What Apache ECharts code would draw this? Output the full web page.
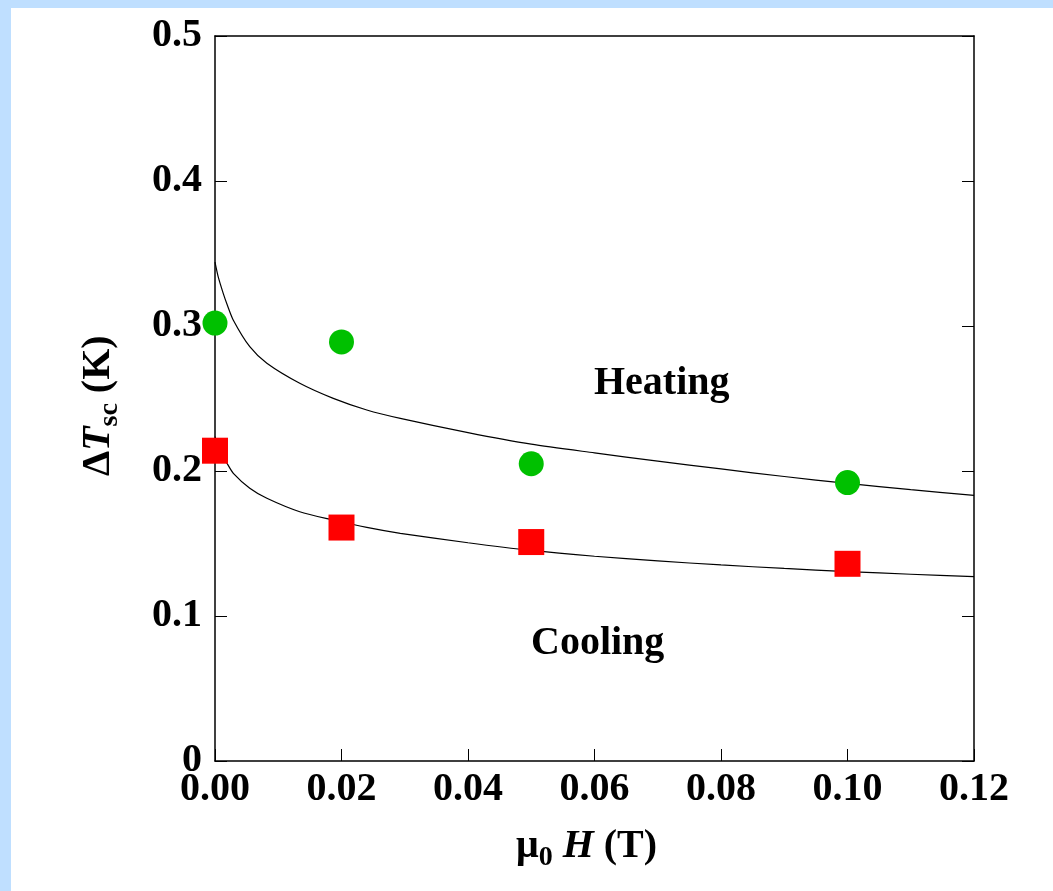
<!DOCTYPE html>
<html>
<head>
<meta charset="utf-8">
<script src="https://cdn.jsdelivr.net/npm/echarts@6/dist/echarts.min.js"></script>
<style>
  html, body { margin: 0; padding: 0; background: #bfdfff; }
  #chart { position: absolute; left: 11px; top: 8px; width: 1042px; height: 883px; background: #fff; }
</style>
</head>
<body>
<div id="chart"></div>
<script>
// measured points
const fieldT = [0, 0.02, 0.05, 0.10];
const heating = [0.302, 0.289, 0.205, 0.192];
const cooling = [0.214, 0.161, 0.151, 0.136];

// fit curves
const fitX = [0, 0.0005, 0.0013, 0.0019, 0.0029, 0.0055, 0.0082, 0.0134, 0.0187, 0.024, 0.0293, 0.04, 0.05, 0.06, 0.07, 0.08, 0.09, 0.1, 0.11, 0.12];
const fitHeat = [0.344, 0.334, 0.3225, 0.315, 0.304, 0.2857, 0.2743, 0.2605, 0.2501, 0.2421, 0.2363, 0.2265, 0.2185, 0.2125, 0.2068, 0.2014, 0.1962, 0.1914, 0.1871, 0.1832];
const fitCool = [0.2237, 0.2175, 0.2095, 0.2053, 0.1984, 0.1881, 0.1812, 0.1719, 0.1662, 0.1611, 0.157, 0.1505, 0.1452, 0.1412, 0.138, 0.1352, 0.1328, 0.1306, 0.1288, 0.1271];

const serif = "'Liberation Serif', 'Times New Roman', serif";

const chart = echarts.init(document.getElementById('chart'));

const pairs = (xs, ys) => xs.map((x, i) => [x, ys[i]]);

const frameLine = { onZero: false, lineStyle: { color: '#000', width: 1.5 } };
const innerTick = { inside: true, length: 12, lineStyle: { color: '#000', width: 1 } };

chart.setOption({
  animation: false,
  grid: { left: 204, top: 28, right: 79, bottom: 130 },
  xAxis: [
    {
      type: 'value', min: 0, max: 0.12, interval: 0.02, position: 'bottom',
      axisLine: frameLine, axisTick: innerTick,
      axisLabel: {
        formatter: (v) => v.toFixed(2), color: '#000', fontFamily: serif,
        fontWeight: 'bold', fontSize: 40, margin: 9
      },
      splitLine: { show: false }
    },
    {
      // top frame edge, no ticks
      type: 'value', min: 0, max: 0.12, interval: 0.02, position: 'top',
      axisLine: frameLine, axisTick: { show: false },
      axisLabel: { show: false },
      splitLine: { show: false }
    }
  ],
  yAxis: [
    {
      type: 'value', min: 0, max: 0.5, interval: 0.1, position: 'left',
      axisLine: frameLine, axisTick: innerTick,
      axisLabel: {
        formatter: (v) => (v === 0 ? '0' : v.toFixed(1)), color: '#000', fontFamily: serif,
        fontWeight: 'bold', fontSize: 40, margin: 13
      },
      splitLine: { show: false }
    },
    {
      type: 'value', min: 0, max: 0.5, interval: 0.1, position: 'right',
      axisLine: frameLine, axisTick: innerTick,
      axisLabel: { show: false },
      splitLine: { show: false }
    }
  ],
  graphic: [
    {
      type: 'text', left: 583, top: 356,
      style: { text: 'Heating', font: 'bold 40px ' + serif, fill: '#000' }
    },
    {
      type: 'text', left: 520, top: 616,
      style: { text: 'Cooling', font: 'bold 40px ' + serif, fill: '#000' }
    },
    {
      type: 'text', left: 505, top: 819,
      style: {
        text: '{m|μ}{s|0}{n| }{i|H}{n| (T)}',
        rich: {
          m: { font: 'bold 40px ' + serif, fill: '#000', lineHeight: 44, verticalAlign: 'top' },
          s: { font: 'bold 28px ' + serif, fill: '#000', lineHeight: 28, padding: [17, 0, 0, 0], verticalAlign: 'top' },
          i: { font: 'italic bold 40px ' + serif, fill: '#000', lineHeight: 44, verticalAlign: 'top' },
          n: { font: 'bold 40px ' + serif, fill: '#000', lineHeight: 44, verticalAlign: 'top' }
        }
      }
    },
    {
      type: 'text', x: 68, y: 468, rotation: Math.PI / 2,
      style: {
        text: '{d|Δ}{i|T}{s|sc}{n| (K)}',
        rich: {
          d: { font: 'bold 40px ' + serif, fill: '#000', lineHeight: 44, verticalAlign: 'top' },
          i: { font: 'italic bold 40px ' + serif, fill: '#000', lineHeight: 44, verticalAlign: 'top' },
          s: { font: 'bold 28px ' + serif, fill: '#000', lineHeight: 28, padding: [17, 0, 0, 0], verticalAlign: 'top' },
          n: { font: 'bold 40px ' + serif, fill: '#000', lineHeight: 44, verticalAlign: 'top' }
        }
      }
    }
  ],
  series: [
    {
      type: 'line', data: pairs(fitX, fitHeat), smooth: 0.25, showSymbol: false,
      lineStyle: { color: '#000', width: 1.2 }, z: 2
    },
    {
      type: 'line', data: pairs(fitX, fitCool), smooth: 0.25, showSymbol: false,
      lineStyle: { color: '#000', width: 1.2 }, z: 2
    },
    {
      type: 'scatter', data: pairs(fieldT, heating), symbol: 'circle', symbolSize: 25,
      itemStyle: { color: '#00c000', opacity: 1 }, z: 3
    },
    {
      type: 'scatter', data: pairs(fieldT, cooling), symbol: 'rect', symbolSize: 26,
      itemStyle: { color: '#ff0000', opacity: 1 }, z: 3
    }
  ]
});
</script>
</body>
</html>
